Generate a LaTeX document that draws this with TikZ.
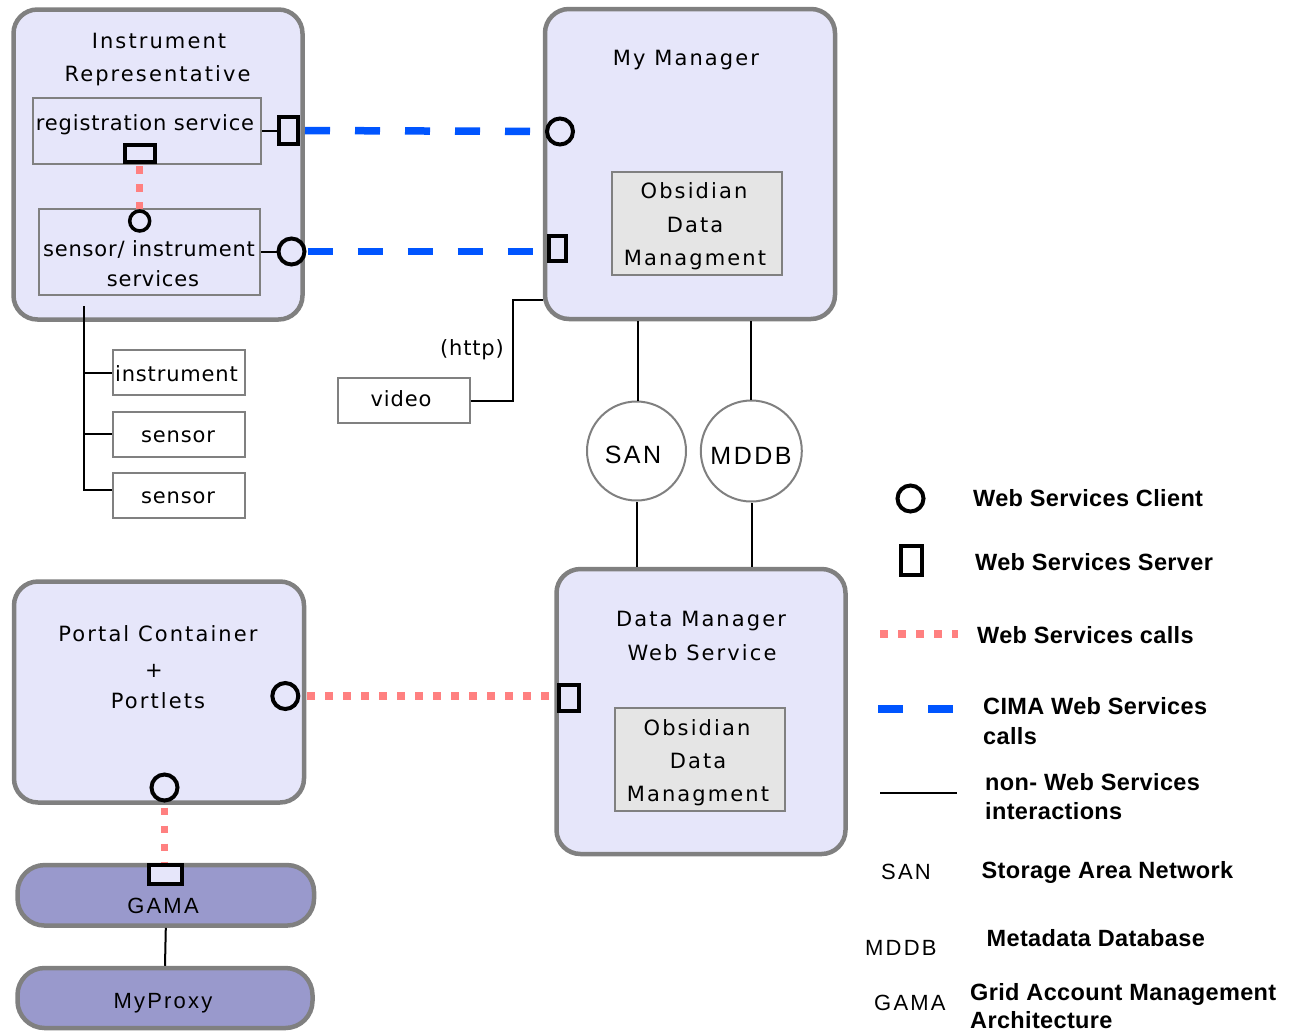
\documentclass[tikz,border=0pt]{standalone}
\usepackage{fontspec}
\setmainfont{DejaVu Sans}
\newfontfamily\titlef[LetterSpace=10]{DejaVu Sans}
\newfontfamily\bodyf[LetterSpace=4]{DejaVu Sans}
\newfontfamily\helvf[LetterSpace=10]{Liberation Sans}
\newfontfamily\legf[LetterSpace=1.5]{Liberation Sans}
\definecolor{lav}{RGB}{230,230,250}
\definecolor{boxgray}{RGB}{128,128,128}
\definecolor{obsfill}{RGB}{229,229,229}
\definecolor{pillfill}{RGB}{153,153,204}
\definecolor{cimablue}{RGB}{0,85,255}
\definecolor{wspink}{RGB}{255,128,128}
\tikzset{
  bigbox/.style={rectangle, rounded corners=24pt, draw=boxgray, line width=4.5pt, fill=lav, inner sep=0pt},
  pill/.style={rectangle, rounded corners=27pt, draw=boxgray, line width=4.5pt, fill=pillfill, inner sep=0pt},
  innerbox/.style={rectangle, draw=boxgray, line width=2pt, fill=lav, inner sep=0pt},
  obsbox/.style={rectangle, draw=boxgray, line width=2pt, fill=obsfill, inner sep=0pt, minimum width=170pt, minimum height=103.5pt},
  plainbox/.style={rectangle, draw=boxgray, line width=2pt, fill=white, inner sep=0pt, minimum width=131.5pt, minimum height=45pt},
  storage/.style={circle, draw=boxgray, line width=2pt, fill=white, inner sep=0pt, font=\helvf\fontsize{25}{30}\selectfont},
  client/.style={circle, draw=black, line width=4pt, fill=lav, inner sep=0pt, minimum size=26pt},
  smallclient/.style={circle, draw=black, line width=3.5pt, fill=lav, inner sep=0pt, minimum size=20pt},
  server/.style={rectangle, draw=black, line width=4pt, fill=lav, inner sep=0pt},
  conn/.style={draw=black, line width=2pt},
  cima/.style={draw=cimablue, line width=7.5pt, dash pattern=on 25pt off 25pt},
  wscall/.style={draw=wspink, line width=7.5pt, dash pattern=on 7.5pt off 10.5pt},
  ttl/.style={inner sep=0pt, anchor=base, font=\titlef\fontsize{21}{25}\selectfont},
  bdy/.style={inner sep=0pt, anchor=base, font=\bodyf\fontsize{21}{25}\selectfont},
  hlv/.style={inner sep=0pt, anchor=base, font=\helvf\fontsize{22}{26}\selectfont},
  leg/.style={inner sep=0pt, anchor=base west, font=\legf\bfseries\fontsize{23.5}{28}\selectfont},
  legabbr/.style={inner sep=0pt, anchor=base west, font=\helvf\fontsize{22}{26}\selectfont},
}
\begin{document}
\begin{tikzpicture}[x=1pt,y=-1pt]
\useasboundingbox[fill=white] (0,0) rectangle (1290,1031);

% ---------- Instrument Representative ----------
\node[bigbox, minimum width=289pt, minimum height=310pt] (ir) at (158,164.5) {};
\node[ttl] (irt1) at (159,48) {Instrument};
\node[ttl] (irt2) at (157.5,81) {Representative};
\node[innerbox, minimum width=228.5pt, minimum height=65.5pt] (reg) at (147,131.2) {};
\node[bdy] (regt) at (145,130) {registration service};
\node[innerbox, minimum width=221.5pt, minimum height=86.5pt] (sens) at (149.3,251.8) {};
\node[bdy] (senst1) at (149,256.5) {sensor/ instrument};
\node[bdy] (senst2) at (153,286.5) {services};

% ---------- My Manager ----------
\node[bigbox, minimum width=290pt, minimum height=310pt] (mym) at (690,164) {};
\node[ttl] (mymt) at (686,65) {My Manager};
\node[obsbox] (obs1) at (696.7,223.3) {};
\node[ttl] (obs1a) at (694,198) {Obsidian};
\node[ttl] (obs1b) at (695,232) {Data};
\node[ttl] (obs1c) at (695,265) {Managment};

% ---------- Data Manager Web Service ----------
\node[bigbox, minimum width=289pt, minimum height=285pt] (dm) at (701,711.5) {};
\node[ttl] (dmt1) at (701,626) {Data Manager};
\node[ttl] (dmt2) at (702,660) {Web Service};
\node[obsbox] (obs2) at (700.3,759.5) {};
\node[ttl] (obs2a) at (697,735) {Obsidian};
\node[ttl] (obs2b) at (698,768) {Data};
\node[ttl] (obs2c) at (698,801) {Managment};

% ---------- Portal ----------
\node[bigbox, minimum width=290pt, minimum height=221pt] (portal) at (159,692) {};
\node[ttl] (pt1) at (158,641.5) {Portal Container};
\node[ttl] (pt2) at (154,677) {+};
\node[ttl] (pt3) at (158,708) {Portlets};

% ---------- GAMA / MyProxy ----------
\node[pill, minimum width=296.5pt, minimum height=60.5pt] (gama) at (165.8,895.3) {};
\node[hlv] (gamat) at (163,913) {GAMA};
\node[pill, minimum width=295pt, minimum height=60pt] (myproxy) at (165,998) {};
\node[hlv] (myproxyt) at (163,1008) {MyProxy};

% ---------- instrument / sensors ----------
\node[plainbox] (ins) at (179,372.7) {};
\node[bdy] (inst) at (176.5,381.5) {instrument};
\node[plainbox] (sen1) at (179,434) {};
\node[bdy] (sen1t) at (178,442.5) {sensor};
\node[plainbox] (sen2) at (179,495.5) {};
\node[bdy] (sen2t) at (178,503.3) {sensor};

% ---------- video ----------
\node[plainbox] (video) at (404.2,400.7) {};
\node[bdy] (videot) at (401,406.5) {video};
\node[bdy] (http) at (472,355) {(http)};

% ---------- storage ----------
\node[storage, minimum size=99pt] (san) at (636.5,451) {};
\node[hlv, font=\helvf\fontsize{25}{30}\selectfont] (sant) at (633,463) {SAN};
\node[storage, minimum size=101pt] (mddb) at (751.3,451) {};
\node[hlv, font=\helvf\fontsize{25}{30}\selectfont] (mddbt) at (751,464) {MDDB};

% ---------- non-web-service connectors ----------
\coordinate (trunk) at (84,306);
\draw[conn] (trunk) |- (ins.west);
\draw[conn] (trunk) |- (sen1.west);
\draw[conn] (trunk) |- ([yshift=6pt]sen2.west);
\coordinate (vbend) at (513,300);
\draw[conn] (video.east) -| (vbend) -- (vbend -| mym.west);
\draw[conn] ([xshift=1pt]san.north |- mym.south) -- ([xshift=1pt]san.north);
\draw[conn] (san.south) -- (san.south |- dm.north);
\draw[conn] (mddb.north |- mym.south) -- (mddb.north);
\draw[conn] ([xshift=0.7pt]mddb.south) -- ([xshift=0.7pt]mddb.south |- dm.north);
\draw[conn] (gama.south) -- (myproxy.north);

% ---------- ports ----------
\node[server, minimum width=19pt, minimum height=27pt] (s1) at (288.5,130.5) {};
\node[client] (c1) at (560,131.5) {};
\node[client] (c2) at (291.5,251.5) {};
\node[server, minimum width=17pt, minimum height=25pt] (s2) at (557,248.5) {};
\node[server, minimum width=30pt, minimum height=17pt] (s3) at (139.7,153.5) {};
\node[smallclient] (c3) at (139.7,221) {};
\node[client] (c4) at (285.3,696) {};
\node[server, minimum width=20pt, minimum height=26pt] (s4) at (569,698) {};
\node[client] (c5) at (164.5,787.5) {};
\node[server, minimum width=33pt, minimum height=19pt] (s5) at (165.5,874.5) {};

\draw[conn] (reg.east |- s1.west) -- (s1.west);
\draw[conn] (sens.east |- c2.west) -- (c2.west);
\draw[cima] ([xshift=5pt]s1.east) -- (c1.west);
\draw[cima] ([xshift=1pt]c2.east) -- (c2.east -| s2.west);
\draw[wscall] ([yshift=-2pt]s3.south) -- (c3.north);
\draw[wscall] ([xshift=7pt]c4.east) -- (c4.east -| s4.west);
\draw[wscall] ([yshift=-5pt]c5.south) -- (c5.south |- s5.north);

% ---------- legend ----------
\node[client, fill=white] (lc) at (910.5,498.5) {};
\node[leg] (lct) at (973,506) {Web Services Client};
\node[server, fill=white, minimum width=21pt, minimum height=29pt] (ls) at (911.5,560.5) {};
\node[leg] (lst) at (975,570) {Web Services Server};
\coordinate (lp1) at (880,634);
\coordinate (lp2) at (957.5,634);
\draw[wscall] (lp1) -- (lp2);
\node[leg] (lpt) at (977,643) {Web Services calls};
\coordinate (lb1) at (878,709);
\coordinate (lb2) at (953,709);
\draw[cima] (lb1) -- (lb2);
\node[leg] (lbt1) at (983,714) {CIMA Web Services};
\node[leg] (lbt2) at (983,744) {calls};
\coordinate (ln1) at (880,793);
\coordinate (ln2) at (957,793);
\draw[conn] (ln1) -- (ln2);
\node[leg] (lnt1) at (985,790) {non- Web Services};
\node[leg] (lnt2) at (985,819) {interactions};
\node[legabbr] (lsan) at (881,879) {SAN};
\node[leg] (lsant) at (981.5,878) {Storage Area Network};
\node[legabbr] (lmddb) at (865,955) {MDDB};
\node[leg] (lmddbt) at (986.5,946.5) {Metadata Database};
\node[legabbr] (lgama) at (874,1010) {GAMA};
\node[leg] (lgamat1) at (970,1000) {Grid Account Management};
\node[leg] (lgamat2) at (970,1028) {Architecture};
\end{tikzpicture}
\end{document}
